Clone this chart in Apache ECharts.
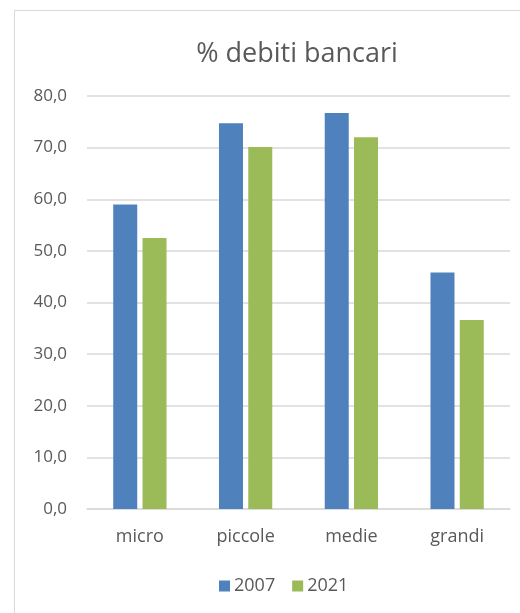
<!DOCTYPE html>
<html><head><meta charset="utf-8">
<script src="https://cdn.jsdelivr.net/npm/echarts@6/dist/echarts.min.js"></script>
<style>
html,body{margin:0;padding:0;background:#fff;overflow:hidden;}
#frame{position:absolute;left:14px;top:10px;width:560px;height:640px;border:1px solid #d9d9d9;box-sizing:border-box;}
#c{position:absolute;left:0;top:0;width:520px;height:613px;}
</style></head>
<body>
<div id="frame"></div>
<div id="c"></div>
<script>
const categories = ['micro','piccole','medie','grandi'];
const series2007 = [59.0, 74.7, 76.7, 45.8];
const series2021 = [52.5, 70.1, 72.0, 36.6];
const seriesNames = ['2007','2021'];
const txt = '#595959';
const font = 'Open Sans';
const chart = echarts.init(document.getElementById('c'));
chart.setOption({
  animation:false,
  title:{text:'% debiti bancari',left:292,textAlign:'center',top:36,
    textStyle:{fontFamily:font,fontSize:27,fontWeight:'normal',color:txt}},
  legend:{top:572,left:214,itemWidth:11,itemHeight:11,itemGap:17,
    icon:'rect',textStyle:{fontFamily:font,fontSize:18,color:txt,padding:[0,0,0,-1]}},
  grid:{left:87,right:10,top:96,bottom:104},
  xAxis:{type:'category',data:categories,
    axisLine:{lineStyle:{color:'#d9d9d9',width:1.5}},axisTick:{show:false},
    axisLabel:{fontFamily:font,fontSize:18,color:txt,margin:19}},
  yAxis:{type:'value',min:0,max:80,interval:10,
    axisLine:{show:false},axisTick:{show:false},
    splitLine:{lineStyle:{color:'#d9d9d9',width:1.5}},
    axisLabel:{fontFamily:font,fontSize:17,color:txt,margin:20,
      formatter:v=>v.toFixed(1).replace('.',',')}},
  series:[
    {name:seriesNames[0],type:'bar',data:series2007,barWidth:24,barGap:'22%',
      itemStyle:{color:'#4f81bd'}},
    {name:seriesNames[1],type:'bar',data:series2021,barWidth:24,
      itemStyle:{color:'#9bbb59'}}
  ]
});
</script>
</body></html>
